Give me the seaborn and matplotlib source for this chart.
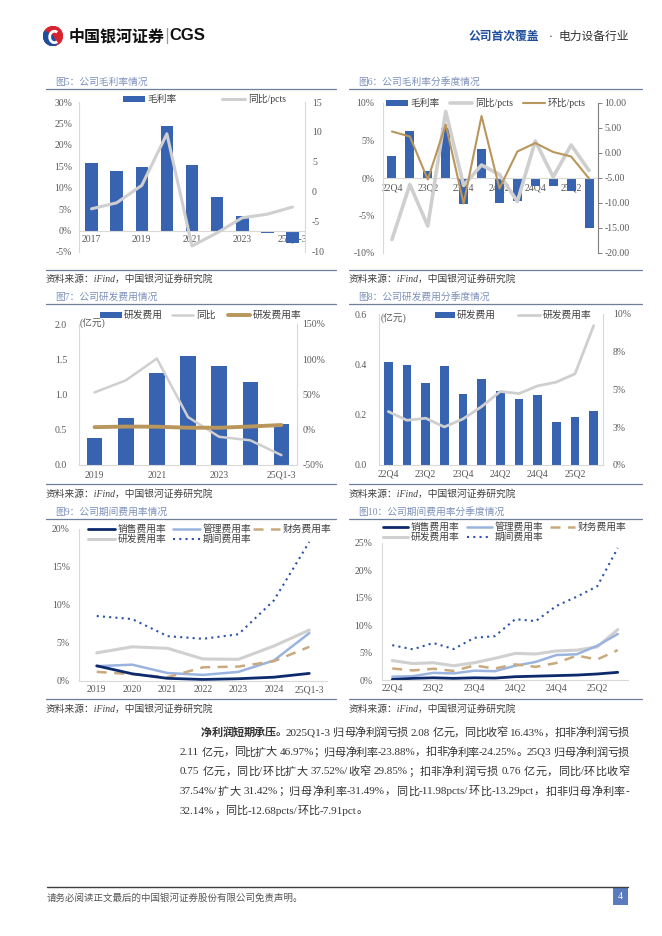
import re
import numpy as np
import matplotlib
matplotlib.use('Agg')
import matplotlib.pyplot as plt
import seaborn as sns
from matplotlib.lines import Line2D
from matplotlib.patches import Rectangle, Circle, Wedge, Arc

# ---- data ----
years5 = ['2017', '2018', '2019', '2020', '2021', '2022', '2023', '2024', '25Q1-3']
gm5 = [15.8, 14.0, 14.9, 24.3, 15.2, 7.9, 3.3, -0.5, -2.9]
gm5_yoy = [-2.8, -1.8, 1.1, 9.7, -9.0, -6.8, -4.3, -3.7, -2.5]

quarters = ['22Q4', '23Q1', '23Q2', '23Q3', '23Q4', '24Q1', '24Q2', '24Q3', '24Q4', '25Q1', '25Q2', '25Q3']
gm6 = [2.95, 6.25, 0.9, 6.65, -3.5, 3.85, -3.35, -3.1, -1.1, -1.0, -1.75, -6.65]
gm6_yoy = [-17.3, -6.3, -14.6, 8.3, -6.5, -2.4, -4.3, -9.7, 2.4, -4.8, 1.6, -3.5]
gm6_qoq = [4.3, 3.3, -5.3, 5.7, -10.1, 7.4, -7.1, 0.3, 2.0, 0.2, -0.7, -5.1]

years7 = ['2019', '2020', '2021', '2022', '2023', '2024', '25Q1-3']
rd7 = [0.39, 0.66, 1.31, 1.54, 1.40, 1.18, 0.58]
rd7_yoy = [53, 70, 101, 18, -10, -15, -36]
rd7_rate = [3.7, 4.5, 4.3, 2.9, 2.85, 4.6, 6.7]

rd8 = [0.409, 0.397, 0.324, 0.393, 0.283, 0.343, 0.295, 0.264, 0.280, 0.171, 0.191, 0.216]
rd8_rate = [3.54, 2.96, 3.1, 2.52, 3.05, 3.87, 4.87, 4.73, 5.24, 5.49, 6.04, 9.23]
rd8_ticks = [0, 2.5, 5, 7.5, 10]
rd8_ticklabels = ['0%', '3%', '5%', '8%', '10%']

sell9 = [2.0, 0.95, 0.35, 0.2, 0.3, 0.5, 1.0]
admin9 = [1.95, 2.15, 1.05, 0.8, 1.2, 2.7, 6.3]
fin9 = [1.2, 0.9, 0.5, 1.8, 1.9, 2.6, 4.5]
rdr9 = [3.7, 4.5, 4.3, 2.9, 2.85, 4.6, 6.7]
period9 = [8.55, 8.15, 5.9, 5.55, 6.15, 10.6, 18.3]

sell10 = [0.1, 0.3, 0.4, 0.3, 0.4, 0.35, 0.6, 0.7, 0.8, 0.9, 1.1, 1.4]
admin10 = [0.6, 0.7, 1.3, 1.2, 1.7, 1.6, 2.6, 3.3, 4.55, 4.7, 6.25, 8.4]
fin10 = [2.1, 1.75, 2.05, 1.65, 2.65, 2.1, 2.85, 2.4, 3.1, 4.45, 3.75, 5.45]
rdr10 = [3.55, 3.0, 3.15, 2.6, 3.15, 3.95, 4.85, 4.75, 5.3, 5.45, 6.05, 9.2]
period10 = [6.35, 5.6, 6.75, 5.65, 7.7, 8.0, 11.1, 10.75, 13.5, 15.2, 17.1, 24.1]

para_lines = [
    [('净利润短期承压。', True), ('2025Q1-3 归母净利润亏损 2.08 亿元，同比收窄 16.43%，扣非净利润亏损', False)],
    [('2.11 亿元，同比扩大 46.97%；归母净利率-23.88%，扣非净利率-24.25%。25Q3 归母净利润亏损', False)],
    [('0.75 亿元，同比/环比扩大 37.52%/收窄 29.85%；扣非净利润亏损 0.76 亿元，同比/环比收窄', False)],
    [('37.54%/扩大 31.42%；归母净利率-31.49%，同比-11.98pcts/环比-13.29pct，扣非归母净利率-', False)],
    [('32.14%，同比-12.68pcts/环比-7.91pct。', False)],
]

# ---- colours ----
BLUE = '#3763b0'
GREY = '#cfcfcf'
GOLD = '#b8965c'
NAVY = '#0c2a6c'
LBLUE = '#9bb4df'
TAN = '#c9aa7e'
DOT = '#2c54a6'
AXIS_C = '#d9d9d9'
TICK_C = '#595959'
TITLE_C = '#7c90bb'
RULE_C = '#6d7f9c'

sns.set_style('white')
plt.rcParams['font.family'] = ['Liberation Serif', 'Noto Sans CJK SC']
plt.rcParams['axes.unicode_minus'] = False

W, H = 662, 936
fig = plt.figure(figsize=(W / 100, H / 100), dpi=100)


def box(x0, y0, x1, y1):
    return [x0 / W, 1 - y1 / H, (x1 - x0) / W, (y1 - y0) / H]


def ftext(x, y, s, **kw):
    kw.setdefault('va', 'center')
    return fig.text(x / W, 1 - y / H, s, **kw)


def fline(x0, x1, y, **kw):
    fig.add_artist(Line2D([x0 / W, x1 / W], [1 - y / H, 1 - y / H], transform=fig.transFigure, **kw))


def frect(x0, y0, x1, y1, **kw):
    fig.add_artist(Rectangle((x0 / W, 1 - y1 / H), (x1 - x0) / W, (y1 - y0) / H,
                             transform=fig.transFigure, **kw))


def key_line(x0, x1, y, text, **kw):
    fline(x0, x1, y, **kw)
    ftext(x1 + 3, y, text, fontsize=7, color='#404040')


def key_bar(x0, x1, y, text):
    frect(x0, y - 3, x1, y + 3, color=BLUE, lw=0)
    ftext(x1 + 2, y, text, fontsize=7, color='#404040')


def frame(x0, x1, title, y_title, y_under, y_rule, y_src):
    ftext(x0 + 9, y_title, title, fontsize=7, color=TITLE_C)
    fline(x0, x1, y_under, color=RULE_C, lw=0.9)
    fline(x0, x1, y_rule, color=RULE_C, lw=0.9)
    ftext(x0, y_src, '资料来源：iFind，中国银河证券研究院', fontsize=7, style='italic', color='#404040')


def base_style(ax, lpad, xpad):
    for s in ['top', 'right']:
        ax.spines[s].set_visible(False)
    for s in ['left', 'bottom']:
        ax.spines[s].set_color(AXIS_C)
        ax.spines[s].set_linewidth(0.8)
    ax.tick_params(axis='both', length=0, labelsize=7, labelcolor=TICK_C)
    ax.tick_params(axis='y', pad=lpad)
    ax.tick_params(axis='x', pad=xpad)
    ax.set_xlabel('')
    ax.set_ylabel('')


def twin_style(ax2, rpad, color=AXIS_C):
    for s in ['top', 'left', 'bottom']:
        ax2.spines[s].set_visible(False)
    ax2.spines['right'].set_color(color)
    ax2.spines['right'].set_linewidth(0.8)
    ax2.tick_params(axis='y', length=0, labelsize=7, labelcolor=TICK_C, pad=rpad)
    ax2.set_ylabel('')


def every_other(labels):
    return [c if i % 2 == 0 else '' for i, c in enumerate(labels)]


# ---- header ----
lax = fig.add_axes(box(43, 26, 63, 46))
lax.set_xlim(-1.05, 1.05)
lax.set_ylim(-1.05, 1.05)
lax.set_aspect('equal')
lax.axis('off')
lax.add_patch(Circle((0, 0), 1, color='#d7232d'))
lax.add_patch(Wedge((0, 0), 1, 150, 290, color='#1d4f9f'))
lax.add_patch(Arc((0.15, -0.1), 1.0, 1.2, theta1=60, theta2=300, color='white', lw=2))
ftext(69, 36, '中国银河证券', fontsize=11.5, fontweight='bold', family=['Noto Sans CJK SC'], color='#111111')
ftext(164, 36, '|', fontsize=11, color='#999999', family=['DejaVu Sans'])
ftext(169, 36, 'CGS', fontsize=12, fontweight='bold', family=['Liberation Sans'], color='#111111')
ftext(469, 37, '公司首次覆盖', fontsize=8.5, color='#1f4e9c', fontweight='bold')
ftext(551, 37, '·', fontsize=8.5, color='#333333', ha='center')
ftext(559, 37, '电力设备行业', fontsize=8.5, color='#333333')

# ---- frames ----
frame(46, 336, '图5：公司毛利率情况', 82, 89, 270, 279)
frame(349, 642, '图6：公司毛利率分季度情况', 82, 89, 270, 279)
frame(46, 336, '图7：公司研发费用情况', 297, 304, 484, 494)
frame(349, 642, '图8：公司研发费用分季度情况', 297, 304, 484, 494)
frame(46, 336, '图9：公司期间费用率情况', 512, 519, 699, 709)
frame(349, 642, '图10：公司期间费用率分季度情况', 512, 519, 699, 709)

# ---- Fig 5 ----
ax = fig.add_axes(box(79, 102, 305, 252))
sns.barplot(x=years5, y=gm5, ax=ax, color=BLUE, width=0.5, saturation=1, linewidth=0, errorbar=None)
ax.set_xlim(-0.5, len(years5) - 0.5)
ax.set_ylim(-5, 30)
ax.set_yticks(range(-5, 31, 5))
ax.set_yticklabels([f'{v}%' for v in range(-5, 31, 5)])
ax.set_xticks(range(len(years5)))
ax.set_xticklabels(every_other(years5))
base_style(ax, 5, 3)
ax.spines['bottom'].set_position(('data', 0))
ax.set_axisbelow(True)
ax2 = ax.twinx()
sns.lineplot(x=np.arange(len(years5)), y=gm5_yoy, ax=ax2, color=GREY, lw=2.2)
ax2.set_ylim(-10, 15)
ax2.set_yticks(range(-10, 16, 5))
twin_style(ax2, 5)
key_bar(123, 145, 99, '毛利率')
key_line(222, 245, 99, '同比/pcts', color=GREY, lw=2.2)

# ---- Fig 6 ----
ax = fig.add_axes(box(383, 103, 598, 253))
sns.barplot(x=quarters, y=gm6, ax=ax, color=BLUE, width=0.5, saturation=1, linewidth=0, errorbar=None)
ax.set_xlim(-0.5, len(quarters) - 0.5)
ax.set_ylim(-10, 10)
ax.set_yticks(range(-10, 11, 5))
ax.set_yticklabels([f'{v}%' for v in range(-10, 11, 5)])
ax.set_xticks(range(len(quarters)))
ax.set_xticklabels(every_other(quarters))
base_style(ax, 6, 4)
ax.spines['bottom'].set_position(('data', 0))
ax.set_axisbelow(True)
ax2 = ax.twinx()
sns.lineplot(x=np.arange(len(quarters)), y=gm6_yoy, ax=ax2, color=GREY, lw=2.6)
sns.lineplot(x=np.arange(len(quarters)), y=gm6_qoq, ax=ax2, color=GOLD, lw=1.5)
ax2.set_ylim(-20, 10)
ax2.set_yticks(range(-20, 11, 5))
ax2.set_yticklabels([f'{v:.2f}' for v in range(-20, 11, 5)])
twin_style(ax2, 1.5, color='#808080')
ax2.tick_params(axis='y', length=3, direction='out', color='#808080', width=0.7)
key_bar(386, 408, 103, '毛利率')
key_line(450, 472, 103, '同比/pcts', color=GREY, lw=2.6)
key_line(523, 545, 103, '环比/pcts', color=GOLD, lw=1.5)

# ---- Fig 7 ----
ax = fig.add_axes(box(79, 324, 297, 465))
sns.barplot(x=years7, y=rd7, ax=ax, color=BLUE, width=0.5, saturation=1, linewidth=0, errorbar=None)
ax.set_xlim(-0.5, len(years7) - 0.5)
ax.set_ylim(0, 2)
ax.set_yticks(np.arange(0, 2.01, 0.5))
ax.set_yticklabels([f'{v:.1f}' for v in np.arange(0, 2.01, 0.5)])
ax.set_xticks(range(len(years7)))
ax.set_xticklabels(every_other(years7))
base_style(ax, 8.5, 4)
ax2 = ax.twinx()
sns.lineplot(x=np.arange(len(years7)), y=rd7_yoy, ax=ax2, color=GREY, lw=1.8)
sns.lineplot(x=np.arange(len(years7)), y=rd7_rate, ax=ax2, color=GOLD, lw=2.8)
ax2.set_ylim(-50, 150)
ax2.set_yticks(range(-50, 151, 50))
ax2.set_yticklabels([f'{v}%' for v in range(-50, 151, 50)])
twin_style(ax2, 4)
ftext(80, 324, '(亿元)', fontsize=7, color=TICK_C)
key_bar(100, 122, 315, '研发费用')
key_line(172, 193, 315, '同比', color=GREY, lw=1.8)
key_line(228, 250, 315, '研发费用率', color=GOLD, lw=2.8)

# ---- Fig 8 ----
ax = fig.add_axes(box(379, 314, 603, 465))
sns.barplot(x=quarters, y=rd8, ax=ax, color=BLUE, width=0.48, saturation=1, linewidth=0, errorbar=None)
ax.set_xlim(-0.5, len(quarters) - 0.5)
ax.set_ylim(0, 0.6)
ax.set_yticks(np.arange(0, 0.61, 0.2))
ax.set_yticklabels([f'{v:.1f}' for v in np.arange(0, 0.61, 0.2)])
ax.set_xticks(range(len(quarters)))
ax.set_xticklabels(every_other(quarters))
base_style(ax, 8.5, 3)
ax2 = ax.twinx()
sns.lineplot(x=np.arange(len(quarters)), y=rd8_rate, ax=ax2, color=GREY, lw=2.0)
ax2.set_ylim(0, 10)
ax2.set_yticks(rd8_ticks)
ax2.set_yticklabels(rd8_ticklabels)
twin_style(ax2, 7)
ftext(381, 319, '(亿元)', fontsize=7, color=TICK_C)
key_bar(435, 455, 315, '研发费用')
key_line(518, 540, 315, '研发费用率', color=GREY, lw=2.0)

# ---- Fig 9 & 10: expense ratio lines ----
line_styles = [
    ('研发费用率', dict(color='#d0d0d0', lw=2.2, ls='-')),
    ('管理费用率', dict(color=LBLUE, lw=1.8, ls='-')),
    ('财务费用率', dict(color=TAN, lw=1.8, ls=(0, (4, 3)))),
    ('期间费用率', dict(color=DOT, lw=1.5, ls=(0, (1, 2)))),
    ('销售费用率', dict(color=NAVY, lw=2.0, ls='-')),
]


def expense_chart(rect, labels, series, ymax, lpad, xpad, shown, legend_pos):
    ax = fig.add_axes(box(*rect))
    pos = np.arange(len(labels))
    for name, st in line_styles:
        sns.lineplot(x=pos, y=series[name], ax=ax, color=st['color'], lw=st['lw'], linestyle=st['ls'])
    ax.set_xlim(-0.5, len(labels) - 0.5)
    ax.set_ylim(0, ymax)
    ax.set_yticks(range(0, ymax + 1, 5))
    ax.set_yticklabels([f'{v}%' for v in range(0, ymax + 1, 5)])
    ax.set_xticks(pos)
    ax.set_xticklabels(shown)
    base_style(ax, lpad, xpad)
    st = dict(line_styles)
    for name, (x0, x1, y) in legend_pos.items():
        s = st[name]
        key_line(x0, x1, y, name, color=s['color'], lw=s['lw'], ls=s['ls'])


expense_chart((79, 529, 327, 681), years7,
              {'销售费用率': sell9, '管理费用率': admin9, '财务费用率': fin9, '研发费用率': rdr9, '期间费用率': period9},
              20, 6.5, 3, years7,
              {'销售费用率': (88, 115, 529), '管理费用率': (173, 200, 529), '财务费用率': (253, 280, 529),
               '研发费用率': (88, 115, 539), '期间费用率': (173, 200, 539)})

expense_chart((382, 543, 628, 680), quarters,
              {'销售费用率': sell10, '管理费用率': admin10, '财务费用率': fin10, '研发费用率': rdr10, '期间费用率': period10},
              25, 7, 2.5, every_other(quarters),
              {'销售费用率': (383, 408, 527), '管理费用率': (467, 492, 527), '财务费用率': (550, 575, 527),
               '研发费用率': (383, 408, 537), '期间费用率': (467, 492, 537)})

# ---- paragraph (justified by hand, a space counts as a small extra gap) ----
renderer = fig.canvas.get_renderer()
TOK = re.compile(r'[A-Za-z0-9.%/\-]+|\s|\S')
SPACE = 3.0
para_y = [733, 752.5, 772, 791.5, 811]
for i, segs in enumerate(para_lines):
    x0 = 201 if i == 0 else 180
    x1 = 629
    items = []
    for txt, bold in segs:
        for tok in TOK.findall(txt):
            if tok.isspace():
                items.append(None)
            else:
                items.append(ftext(0, para_y[i], tok, fontsize=8, color='#333333',
                                   fontweight='bold' if bold else 'normal'))
    widths = [SPACE if t is None else t.get_window_extent(renderer).width for t in items]
    n_txt = sum(t is not None for t in items)
    last = i == len(para_lines) - 1
    gap = 0 if last else (x1 - x0 - sum(widths)) / (n_txt - 1)
    x = x0
    for t, w in zip(items, widths):
        if t is None:
            x += w
            continue
        t.set_x(x / W)
        x += w + gap

# ---- footer ----
fline(47, 628, 887, color='#404040', lw=1.0)
ftext(47, 898, '请务必阅读正文最后的中国银河证券股份有限公司免责声明。', fontsize=6.8, color='#555555')
frect(613, 888, 628, 905, color='#5b7bbf', lw=0)
ftext(620.5, 896.5, '4', fontsize=7, color='white', ha='center')

fig.savefig('out.png', dpi=100)
